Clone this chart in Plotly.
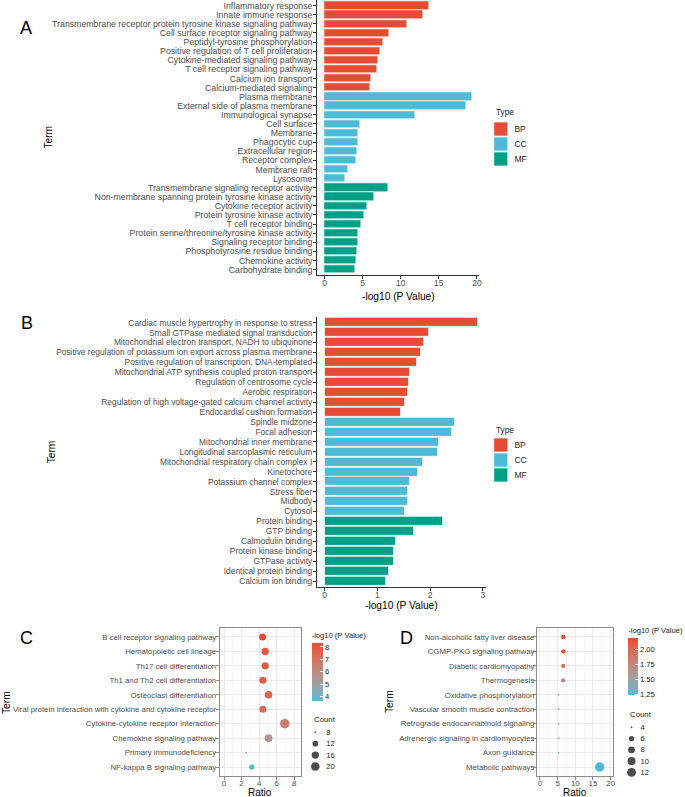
import math
import plotly.graph_objects as go

W, H = 685, 797
FONT = "Liberation Sans, Arial, sans-serif"
TICK_COL = "#4D4D4D"
AXIS_COL = "#333333"
BOX_COL = "#8C8C8C"

# ---------------- data ----------------
type_levels = ["BP", "CC", "MF"]
type_colors = ["#E64B35", "#4DBBD5", "#00A087"]

a_terms = [
    "Inflammatory response", "Innate immune response",
    "Transmembrane receptor protein tyrosine kinase signaling pathway",
    "Cell surface receptor signaling pathway", "Peptidyl-tyrosine phosphorylation",
    "Positive regulation of T cell proliferation", "Cytokine-mediated signaling pathway",
    "T cell receptor signaling pathway", "Calcium ion transport", "Calcium-mediated signaling",
    "Plasma membrane", "External side of plasma membrane", "Immunological synapse",
    "Cell surface", "Membrane", "Phagocytic cup", "Extracellular region",
    "Receptor complex", "Membrane raft", "Lysosome",
    "Transmembrane signaling receptor activity",
    "Non-membrane spanning protein tyrosine kinase activity",
    "Cytokine receptor activity", "Protein tyrosine kinase activity",
    "T cell receptor binding", "Protein serine/threonine/tyrosine kinase activity",
    "Signaling receptor binding", "Phosphotyrosine residue binding",
    "Chemokine activity", "Carbohydrate binding",
]
a_types = ["BP"] * 10 + ["CC"] * 10 + ["MF"] * 10
a_values = [13.7, 13.0, 10.9, 8.5, 7.7, 7.3, 7.05, 6.9, 6.1, 5.97,
            19.35, 18.65, 11.9, 4.7, 4.35, 4.35, 4.33, 4.1, 3.1, 2.75,
            8.4, 6.5, 5.6, 5.15, 4.85, 4.4, 4.4, 4.3, 4.1, 4.0]

b_terms = [
    "Cardiac muscle hypertrophy in response to stress",
    "Small GTPase mediated signal transduction",
    "Mitochondrial electron transport, NADH to ubiquinone",
    "Positive regulation of potassium ion export across plasma membrane",
    "Positive regulation of transcription, DNA-templated",
    "Mitochondrial ATP synthesis coupled proton transport",
    "Regulation of centrosome cycle", "Aerobic respiration",
    "Regulation of high voltage-gated calcium channel activity",
    "Endocardial cushion formation",
    "Spindle midzone", "Focal adhesion", "Mitochondrial inner membrane",
    "Longitudinal sarcoplasmic reticulum", "Mitochondrial respiratory chain complex I",
    "Kinetochore", "Potassium channel complex", "Stress fiber", "Midbody", "Cytosol",
    "Protein binding", "GTP binding", "Calmodulin binding", "Protein kinase binding",
    "GTPase activity", "Identical protein binding", "Calcium ion binding",
]
b_types = ["BP"] * 10 + ["CC"] * 10 + ["MF"] * 7
b_values = [2.91, 1.98, 1.88, 1.83, 1.75, 1.62, 1.59, 1.57, 1.53, 1.44,
            2.46, 2.42, 2.17, 2.15, 1.86, 1.77, 1.62, 1.58, 1.57, 1.52,
            2.24, 1.70, 1.35, 1.31, 1.31, 1.22, 1.16]

c_terms = [
    "B cell receptor signaling pathway", "Hematopoietic cell lineage",
    "Th17 cell differentiation", "Th1 and Th2 cell differentiation",
    "Osteoclast differentiation",
    "Viral protein interaction with cytokine and cytokine receptor",
    "Cytokine-cytokine receptor interaction", "Chemokine signaling pathway",
    "Primary immunodeficiency", "NF-kappa B signaling pathway",
]
c_ratio = [4.4, 4.7, 4.7, 4.43, 5.08, 4.43, 6.93, 5.08, 2.5, 3.18]
c_count = [15, 16, 16, 15, 17, 15, 23, 17, 8, 11]
c_logp = [8.32, 7.95, 7.85, 7.9, 7.6, 7.3, 6.7, 5.6, 5.3, 3.65]
c_count_breaks = [8, 12, 16, 20]
c_color_ticks = [4, 5, 6, 7, 8]

d_terms = [
    "Non-alcoholic fatty liver disease", "CGMP-PKG signaling pathway",
    "Diabetic cardiomyopathy", "Thermogenesis", "Oxidative phosphorylation",
    "Vascular smooth muscle contraction", "Retrograde endocannabinoid signaling",
    "Adrenergic signaling in cardiomyocytes", "Axon guidance", "Metabolic pathways",
]
d_ratio = [6.6, 6.6, 6.6, 6.6, 5.27, 5.27, 5.27, 5.27, 5.27, 16.9]
d_count = [5, 5, 5, 5, 4, 4, 4, 4, 4, 13]
d_logp = [2.18, 2.15, 1.90, 1.75, 1.58, 1.60, 1.42, 1.38, 1.28, 1.23]
d_count_breaks = [4, 6, 8, 10, 12]
d_color_ticks = [1.25, 1.5, 1.75, 2.0]


# ---------------- helpers ----------------
def fx(p):
    return p / W


def fy(p):
    return 1 - p / H


def hex_to_rgb(h):
    return [int(h[i:i + 2], 16) / 255 for i in (1, 3, 5)]


def s2l(c):
    return c / 12.92 if c <= 0.04045 else ((c + 0.055) / 1.055) ** 2.4


def l2s(c):
    return 12.92 * c if c <= 0.0031308 else 1.055 * c ** (1 / 2.4) - 0.055


MX = [[0.4124, 0.3576, 0.1805], [0.2126, 0.7152, 0.0722], [0.0193, 0.1192, 0.9505]]
MI = [[3.2406, -1.5372, -0.4986], [-0.9689, 1.8758, 0.0415], [0.0557, -0.2040, 1.0570]]
WP = (0.95047, 1.0, 1.08883)


def _f(t):
    return t ** (1 / 3) if t > 0.008856 else 7.787 * t + 16 / 116


def _fi(t):
    return t ** 3 if t ** 3 > 0.008856 else (t - 16 / 116) / 7.787


def rgb_to_lab(rgb):
    lin = [s2l(c) for c in rgb]
    xyz = [sum(MX[i][j] * lin[j] for j in range(3)) for i in range(3)]
    a, b, c = [_f(xyz[i] / WP[i]) for i in range(3)]
    return (116 * b - 16, 500 * (a - b), 200 * (b - c))


def lab_to_hex(lab):
    L, a, b = lab
    yy = (L + 16) / 116
    xyz = [_fi(yy + a / 500) * WP[0], _fi(yy) * WP[1], _fi(yy - b / 200) * WP[2]]
    lin = [sum(MI[i][j] * xyz[j] for j in range(3)) for i in range(3)]
    rgb = [min(1, max(0, l2s(max(0, c)))) for c in lin]
    return "#%02x%02x%02x" % tuple(round(c * 255) for c in rgb)


def lab_scale(lo, hi, n=15):
    A, B = rgb_to_lab(hex_to_rgb(lo)), rgb_to_lab(hex_to_rgb(hi))
    return [[i / (n - 1), lab_to_hex([A[k] + (B[k] - A[k]) * i / (n - 1) for k in range(3)])]
            for i in range(n)]


SCALE = lab_scale("#4DBBD5", "#E64B35")


def dot_size(c, lo, hi, dmin=1.8, dmax=9.4):
    return dmin + (dmax - dmin) * math.sqrt(max(0, (c - lo) / (hi - lo)))


fig = go.Figure()

# ---------------- bar panels ----------------
for terms, types, vals, xa, ya in [(a_terms, a_types, a_values, "x", "y"),
                                   (b_terms, b_types, b_values, "x2", "y2")]:
    for t, col in zip(type_levels, type_colors):
        idx = [i for i, tt in enumerate(types) if tt == t]
        fig.add_trace(go.Bar(
            x=[vals[i] for i in idx], y=[terms[i] for i in idx], orientation="h",
            width=0.9, marker=dict(color=col, line=dict(color="white", width=0.7)),
            xaxis=xa, yaxis=ya, showlegend=False, hoverinfo="x+y"))

# type legends as small key axes
for xa, ya in [("x5", "y5"), ("x6", "y6")]:
    fig.add_trace(go.Scatter(
        x=[0] * len(type_levels), y=type_levels, mode="markers",
        marker=dict(symbol="square", size=14, color=type_colors,
                    line=dict(color="white", width=0.7)),
        xaxis=xa, yaxis=ya, showlegend=False, hoverinfo="skip"))

# ---------------- dot panels ----------------
for terms, ratio, count, logp, ticks, xa, ya, cb in [
    (c_terms, c_ratio, c_count, c_logp, c_color_ticks, "x3", "y3",
     dict(x=fx(313), bottom=701, len=72, thickness=11, fmt="")),
    (d_terms, d_ratio, d_count, d_logp, d_color_ticks, "x4", "y4",
     dict(x=fx(631), bottom=695.3, len=71, thickness=10, fmt=".2f")),
]:
    lo, hi = min(count), max(count)
    fig.add_trace(go.Scatter(
        x=ratio, y=terms, mode="markers",
        marker=dict(size=[dot_size(c, lo, hi) for c in count], color=logp,
                    colorscale=SCALE, line=dict(width=0), opacity=1,
                    showscale=True,
                    colorbar=dict(
                        x=cb["x"], xanchor="left", y=fy(cb["bottom"]), yanchor="bottom",
                        len=cb["len"], lenmode="pixels", thickness=cb["thickness"],
                        thicknessmode="pixels", xpad=0, ypad=0, outlinewidth=0,
                        tickvals=ticks, tickformat=cb["fmt"], ticks="inside",
                        tickcolor="white", ticklen=2.5,
                        tickfont=dict(family=FONT, size=7.5, color="#222222"),
                        title=dict(text="-log10 (P Value)", side="top",
                                   font=dict(family=FONT, size=7.6, color="#222222")))),
        xaxis=xa, yaxis=ya, showlegend=False, hoverinfo="x+y"))

# count legends as small key axes
for breaks, count, xa, ya in [(c_count_breaks, c_count, "x7", "y7"),
                              (d_count_breaks, d_count, "x8", "y8")]:
    lo, hi = min(count), max(count)
    fig.add_trace(go.Scatter(
        x=[0] * len(breaks), y=[str(b) for b in breaks], mode="markers",
        marker=dict(size=[dot_size(b, lo, hi) for b in breaks], color="black",
                    line=dict(width=0)),
        xaxis=xa, yaxis=ya, showlegend=False, hoverinfo="skip"))


# ---------------- axes ----------------
def bar_x(dom, rng, tv, anchor):
    return dict(domain=[fx(dom[0]), fx(dom[1])], range=rng, tickvals=tv, anchor=anchor,
                ticks="outside", ticklen=3, tickcolor=AXIS_COL, tickwidth=1,
                ticklabelstandoff=-3,
                showline=True, linecolor=AXIS_COL, linewidth=1, showgrid=False,
                zeroline=False, tickfont=dict(family=FONT, size=8.5, color=TICK_COL))


def bar_y(dom, terms, anchor, size):
    return dict(domain=[fy(dom[1]), fy(dom[0])], type="category", categoryorder="array",
                categoryarray=terms, tickmode="array", tickvals=terms,
                range=[len(terms) - 0.4, -0.6], anchor=anchor,
                ticks="outside", ticklen=3, tickcolor=AXIS_COL, tickwidth=1,
                ticklabelstandoff=-1,
                showline=True, linecolor=AXIS_COL, linewidth=1, showgrid=False,
                zeroline=False, tickfont=dict(family=FONT, size=size, color=TICK_COL))


def dot_x(dom, rng, dtick, minor, anchor):
    return dict(domain=[fx(dom[0]), fx(dom[1])], range=rng, dtick=dtick, tick0=0,
                anchor=anchor, ticks="outside", ticklen=3, tickcolor=BOX_COL,
                ticklabelstandoff=-3,
                showline=True, mirror=True, linecolor=BOX_COL, linewidth=1,
                showgrid=True, gridcolor="#EBEBEB", gridwidth=1, zeroline=False,
                minor=dict(dtick=minor, tick0=0, showgrid=True, gridcolor="#F5F5F5",
                           ticks=""),
                tickfont=dict(family=FONT, size=7.9, color=TICK_COL))


def dot_y(dom, terms, anchor, standoff):
    return dict(domain=[fy(dom[1]), fy(dom[0])], type="category", categoryorder="array",
                categoryarray=terms, tickmode="array", tickvals=terms,
                range=[len(terms) - 0.4, -0.6], anchor=anchor,
                ticks="outside", ticklen=3, tickcolor=BOX_COL,
                ticklabelstandoff=standoff,
                showline=True, mirror=True, linecolor=BOX_COL, linewidth=1,
                showgrid=True, gridcolor="#EBEBEB", gridwidth=1, zeroline=False,
                tickfont=dict(family=FONT, size=7.8, color=TICK_COL))


def key_x(dom, anchor):
    return dict(domain=[fx(dom[0]), fx(dom[1])], range=[-1, 1], anchor=anchor,
                visible=False, fixedrange=True)


def key_y(dom, cats, anchor, size, ticklen):
    return dict(domain=[fy(dom[1]), fy(dom[0])], type="category", categoryorder="array",
                categoryarray=cats, tickmode="array", tickvals=cats,
                range=[len(cats) - 0.5, -0.5], anchor=anchor,
                side="right", showline=False, showgrid=False, zeroline=False,
                ticks="outside", ticklen=ticklen, tickcolor="rgba(0,0,0,0)",
                tickfont=dict(family=FONT, size=size, color="#222222"), fixedrange=True)


layout = dict(
    width=W, height=H, margin=dict(l=0, r=0, t=0, b=0),
    paper_bgcolor="white", plot_bgcolor="white", showlegend=False,
    font=dict(family=FONT, color="#222222"), bargap=0,
    xaxis=bar_x((318.6, 481.3), [-0.97, 20.3], [0, 5, 10, 15, 20], "y"),
    yaxis=bar_y((0.2, 275), a_terms, "x", 8.75),
    xaxis2=bar_x((318.3, 488), [-0.1455, 3.055], [0, 1, 2, 3], "y2"),
    yaxis2=bar_y((316.7, 587), b_terms, "x2", 8.4),
    xaxis3=dot_x((220.7, 302), [-0.49, 8.75], 2, 1, "y3"),
    yaxis3=dot_y((628.3, 775.7), c_terms, "x3", -2),
    xaxis4=dot_x((539.3, 615.3), [-0.85, 20.56], 5, 2.5, "y4"),
    yaxis4=dot_y((628.3, 775.7), d_terms, "x4", -3),
    xaxis5=key_x((496, 510), "y5"),
    yaxis5=key_y((121.5, 166.5), type_levels, "x5", 8.5, 4),
    xaxis6=key_x((496, 510), "y6"),
    yaxis6=key_y((437.5, 482.5), type_levels, "x6", 8.5, 4),
    xaxis7=key_x((311.2, 322.2), "y7"),
    yaxis7=key_y((726.6, 772.2), [str(b) for b in c_count_breaks], "x7", 7.5, 3),
    xaxis8=key_x((628.8, 639.8), "y8"),
    yaxis8=key_y((721.7, 778), [str(b) for b in d_count_breaks], "x8", 7.5, 1),
)

ann = []


def add_text(txt, x, y, size, color="#000000", angle=0, xanchor="center"):
    ann.append(dict(text=txt, x=fx(x), y=fy(y), xref="paper", yref="paper",
                    showarrow=False, xanchor=xanchor, yanchor="middle",
                    textangle=angle, font=dict(family=FONT, size=size, color=color)))


for letter, x, y in [("A", 25.8, 28.3), ("B", 26.7, 323.3), ("C", 26.7, 638.3),
                     ("D", 408.3, 637.8)]:
    add_text(letter, x, y, 18)
for x, y in [(48.3, 137.5), (51.7, 451.9), (6, 702), (391, 701.7)]:
    add_text("Term", x, y, 10.2, angle=-90)
add_text("-log10 (P Value)", 400, 296, 10.2)
add_text("-log10 (P Value)", 403.5, 605.7, 10.2)
add_text("Ratio", 261.4, 792, 10)
add_text("Ratio", 577.3, 792, 10)
add_text("Type", 496, 113, 8.2, color="#222222", xanchor="left")
add_text("Type", 496, 430, 8.2, color="#222222", xanchor="left")
add_text("Count", 313, 719.3, 7.8, color="#222222", xanchor="left")
add_text("Count", 631, 714.3, 7.8, color="#222222", xanchor="left")

layout["annotations"] = ann
fig.update_layout(**layout)
fig.write_html("out.html", config={"displayModeBar": False},
               post_script="document.body.style.margin='0';document.body.style.overflow='hidden';")
